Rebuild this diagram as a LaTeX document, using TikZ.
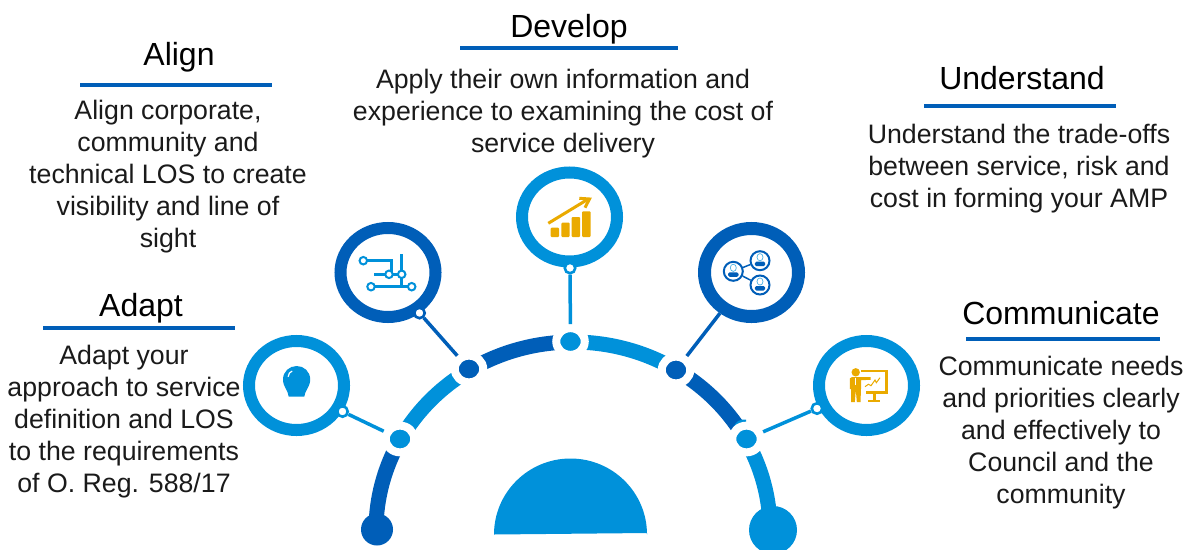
\documentclass[tikz,border=0pt]{standalone}
\usepackage{fontspec}
\setmainfont{Liberation Sans}
\usetikzlibrary{shapes.geometric}
\definecolor{kdark}{HTML}{005EB8}
\definecolor{klight}{HTML}{0091DA}
\definecolor{korange}{HTML}{EAAA00}
\definecolor{ink}{HTML}{1A1A1A}
\tikzset{
  titletext/.style={text=black,font=\fontsize{32}{36}\selectfont,anchor=base,inner sep=0pt},
  bodytext/.style={text=ink,font=\fontsize{26.7}{32}\selectfont,align=center,inner sep=0pt},
  titlerule/.style={fill=kdark,draw=none,minimum height=4,inner sep=0pt,outer sep=0pt},
  ring/.style={ellipse,draw=#1,fill=white,line width=12,minimum width=95,minimum height=89,inner sep=0pt},
  pin/.style={circle,draw=#1,fill=white,line width=2.6,minimum size=10.5,inner sep=0pt},
  dot/.style={ellipse,fill=#1,draw=white,line width=8,minimum width=28.5,minimum height=26.7,inner sep=0pt},
  enddot/.style={circle,fill=#1,draw=none,inner sep=0pt},
  link/.style={draw=#1,line width=3.5},
  seg/.style={draw=#1,line width=15},
  circ/.style={circle,draw=klight,fill=white,line width=2,minimum size=7.5,inner sep=0pt},
  face/.style={circle,draw=kdark,fill=white,line width=2,minimum size=19,inner sep=0pt},
}
\newcommand{\ringseg}[3]{\draw[seg=#1] (arcc) ++(#2:197pt and 188pt) arc[start angle=#2,end angle=#3,x radius=197pt,y radius=188pt];}
\newcommand{\personat}[2]{%
  \fill[kdark,rounded corners=1.5] (#1-5.2,#2+1) rectangle (#1+5.2,#2+5.5);
  \draw[klight!70,line width=.7] (#1,#2-3.5) ellipse[x radius=3,y radius=3.6];}
\begin{document}
\begin{tikzpicture}[x=1pt,y=-1pt]
\useasboundingbox (0,0) rectangle (1201,549);
\coordinate (arcc) at (573,530);

% the arc
\ringseg{kdark}{180}{151}
\ringseg{klight}{151}{121.5}
\ringseg{kdark}{121.5}{91}
\ringseg{klight}{91}{58.3}
\ringseg{kdark}{58.3}{29}
\ringseg{klight}{29}{0}
\fill[klight] (733.3,428) .. controls (735,422) and (740,418.5) .. (746,419.5) -- (746,428) -- cycle;
\node[enddot=kdark,minimum size=32] (endl) at (377,529.5) {};
\node[enddot=klight,minimum size=48] (endr) at (773,530) {};

% dome
\fill[klight] (494,534.5) arc[start angle=180,end angle=0,x radius=76.5pt,y radius=76pt] -- (647,533) -- cycle;

% rings, pins, dots
\node[ring=klight] (ra) at (296.5,385.5) {};
\node[ring=kdark]  (rb) at (388,272.5) {};
\node[ring=klight] (rc) at (569.5,217) {};
\node[ring=kdark,line width=13,minimum width=94,minimum height=88] (rd) at (751.5,272.5) {};
\node[ring=klight] (re) at (866.5,385.5) {};

\node[pin=klight] (pa) at (342.5,411.5) {};
\node[pin=kdark]  (pb) at (419.5,313) {};
\node[pin=klight] (pc) at (570,268) {};
\node[pin=klight] (pe) at (817,408.5) {};

\node[dot=klight] (da) at (400,439) {};
\node[dot=kdark]  (db) at (469,369) {};
\node[dot=klight] (dc) at (570.5,341.5) {};
\node[dot=kdark]  (dd) at (676,370) {};
\node[dot=klight] (de) at (746.5,439) {};

\draw[link=klight] (pa) -- (da);
\draw[link=kdark]  (pb) -- (db);
\draw[link=klight] (pc) -- (dc);
\draw[link=kdark]  (rd) -- (dd);
\draw[link=klight] (pe) -- (de);

% bulb icon
\fill[klight] (288.7,396.7) -- (304.3,396.7) .. controls (304.5,391) and (310.2,387) .. (310.2,379.5)
  .. controls (310.2,371.5) and (304,366) .. (296.7,366) .. controls (289.4,366) and (283,371.5) .. (283,379.5)
  .. controls (283,387) and (288.5,391) .. (288.7,396.7) -- cycle;
\draw[white,line width=1.2,line cap=round] (288.2,376.5) .. controls (288.5,373.5) and (290,372) .. (292,371.2);

% circuit icon
\draw[klight,line width=3] (363.3,260.7) -- (391,260.7) -- (391,274.3);
\draw[klight,line width=3] (374.3,274.3) -- (401.7,274.3);
\draw[klight,line width=3] (401.7,254) -- (401.7,286.7);
\draw[klight,line width=3] (371,286.7) -- (411.7,286.7);
\node[circ] (c1) at (363.3,260.7) {};
\node[circ] (c2) at (389,274.3) {};
\node[circ] (c3) at (401.7,274.3) {};
\node[circ] (c4) at (371,286.7) {};
\node[circ] (c5) at (411.7,286.7) {};

% chart icon
\fill[korange,rounded corners=1] (550.7,227.7) rectangle (559,237);
\fill[korange,rounded corners=1] (561.3,222.7) rectangle (569.7,237);
\fill[korange,rounded corners=1] (571.7,217) rectangle (580,237);
\fill[korange,rounded corners=1] (582,211.3) rectangle (590.7,237);
\draw[korange,line width=3] (548.3,223.3) -- (588,199.2);
\draw[korange,line width=3] (579.3,198.3) -- (589.5,199) -- (585,207.7);

% people icon
\node[face] (f1) at (733.3,271.3) {};
\node[face] (f2) at (760,260.7) {};
\node[face] (f3) at (760,285) {};
\draw[kdark,line width=1.5] (f1) -- (f2);
\draw[kdark,line width=1.5] (f1) -- (f3);
\personat{733.3}{271.3}
\personat{760}{260.7}
\personat{760}{285}

% presenter icon
\fill[korange] (855.7,372.3) circle[radius=4.2];
\fill[korange] (849.8,378.5) -- (852,377) -- (859,377) -- (870.5,377) -- (870.5,379.8) -- (861,380.2) -- (861,388.5) -- (860.5,402) -- (856.8,402) -- (855.8,390) -- (854.8,402) -- (851.2,402) -- (851.2,389) -- (849.8,389) -- cycle;
\draw[white,line width=.8] (855.6,377.5) -- (855.6,385);
\draw[korange,line width=2.4] (861,370.8) -- (886.5,370.8) -- (886.5,392.4) -- (866,392.4);
\draw[korange,line width=2.4] (874.3,392) -- (874.3,400);
\draw[korange,line width=2.6] (868,401) -- (880,401);
\draw[korange,line width=1] (865,386.7) -- (868.3,384.3) -- (871,385.7) -- (875,380) -- (876.3,382.7) -- (880,377.7);

% titles and texts
\node[titletext] (talign) at (179,65) {Align};
\node[titlerule,minimum width=192] (ralign) at (176,85) {};
\node[bodytext] (balign) at (168,177) {Align corporate,\\community and\\technical LOS to create\\visibility and line of\\sight};

\node[titletext] (tdev) at (569,37) {Develop};
\node[titlerule,minimum width=218] (rdev) at (569,48) {};
\node[bodytext] (bdev) at (563,114) {Apply their own information and\\experience to examining the cost of\\service delivery};

\node[titletext] (tund) at (1022,89) {Understand};
\node[titlerule,minimum width=192] (rund) at (1020,105.5) {};
\node[bodytext] (bund) at (1019,168.5) {Understand the trade-offs\\between service, risk and\\cost in forming your AMP};

\node[titletext] (tada) at (141,316) {Adapt};
\node[titlerule,minimum width=192] (rada) at (139,328) {};
\node[bodytext] (bada) at (124,422) {Adapt your\\approach to service\\definition and LOS\\to the requirements\\of O. Reg. 588/17};

\node[titletext] (tcom) at (1061,324) {Communicate};
\node[titlerule,minimum width=194] (rcom) at (1063,339) {};
\node[bodytext] (bcom) at (1061,433) {Communicate needs\\and priorities clearly\\and effectively to\\Council and the\\community};
\end{tikzpicture}
\end{document}
